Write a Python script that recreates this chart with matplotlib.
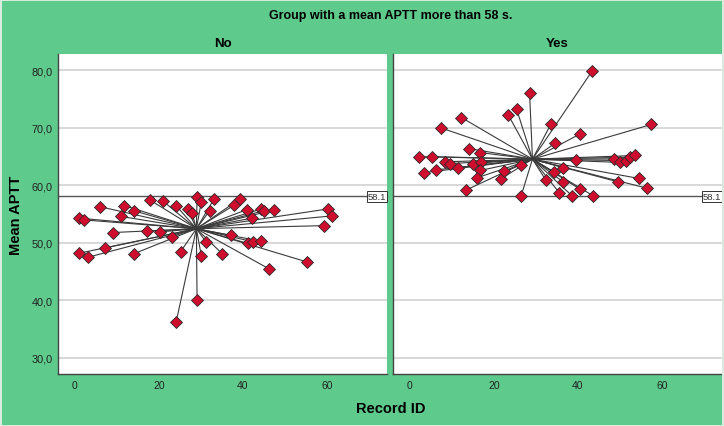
import numpy as np
import matplotlib
matplotlib.use("Agg")
import matplotlib.pyplot as plt
from matplotlib.patches import Rectangle

plt.rcParams['font.family'] = ['Liberation Sans', 'DejaVu Sans']

# group "No" (mean APTT <= 58 s)
no_id = [1.0, 2.1, 6.0, 11.8, 14.0, 11.0, 9.0, 7.1, 1.0, 3.1, 14.0,
         18.0, 21.1, 24.1, 26.9, 27.9, 29.1, 30.1, 33.1, 32.1, 39.2, 38.0,
         41.0, 42.1, 44.4, 45.0, 47.3, 17.2, 20.2, 23.1, 25.2, 30.1, 31.3,
         35.1, 37.2, 41.2, 42.4, 44.2, 46.2, 55.2, 60.2, 61.3, 59.3, 29.1, 24.1]
no_aptt = [54.3, 54.0, 56.3, 56.5, 55.6, 54.6, 51.8, 49.1, 48.2, 47.5, 48.1,
           57.4, 57.2, 56.5, 55.9, 55.2, 57.9, 57.1, 57.6, 55.6, 57.6, 56.6,
           55.8, 54.3, 55.9, 55.6, 55.7, 52.0, 51.9, 51.1, 48.5, 47.8, 50.1,
           48.1, 51.3, 49.9, 50.2, 50.3, 45.5, 46.7, 55.9, 54.7, 53.0, 40.0, 36.2]

# group "Yes" (mean APTT > 58 s)
yes_id = [43.4, 28.5, 23.4, 25.4, 12.3, 7.4, 33.6, 40.4, 34.5, 57.5,
          2.3, 5.3, 14.0, 16.8, 8.3, 9.6, 11.4, 15.1, 17.0, 3.3, 6.3, 16.8,
          15.9, 21.6, 22.5, 26.5, 13.4, 26.5, 32.4, 34.4, 36.5, 36.5, 39.6,
          35.6, 38.6, 40.6, 43.6, 48.5, 50.0, 51.5, 52.5, 53.7, 49.6, 54.6, 56.5]
yes_aptt = [79.9, 76.1, 72.3, 73.3, 71.8, 70.0, 70.7, 68.9, 67.3, 70.6,
            65.0, 65.0, 66.4, 65.7, 64.1, 63.8, 63.1, 63.8, 64.1, 62.2, 62.7, 62.6,
            61.3, 61.1, 62.5, 63.6, 59.2, 58.2, 60.9, 62.3, 63.1, 60.6, 64.4,
            58.7, 58.2, 59.3, 58.2, 64.6, 64.0, 64.3, 64.9, 65.2, 60.6, 61.2, 59.5]

panels = ["No", "Yes"]
ref_value = 58.1
y_ticks = [30, 40, 50, 60, 70, 80]
x_ticks = [0, 20, 40, 60]

green = '#5ECA8B'
red = '#CF0E2E'

fig = plt.figure(figsize=(7.24, 4.27), dpi=100, facecolor=green)
W, H = 724, 427
ax_l = fig.add_axes([58 / W, (H - 375) / H, 329 / W, 320 / H])
ax_r = fig.add_axes([393 / W, (H - 375) / H, 329 / W, 320 / H])

# thin light frame round the whole chart
fig.patches.append(Rectangle((0.5 / W, 0.5 / H), 1 - 1.5 / W, 1 - 1.5 / H,
                             transform=fig.transFigure, fill=False,
                             ec='#DDEBE1', lw=1.4, zorder=10))

for ax, name, xs, ys in [(ax_l, panels[0], no_id, no_aptt),
                         (ax_r, panels[1], yes_id, yes_aptt)]:
    xs = np.array(xs)
    ys = np.array(ys)
    cx, cy = xs.mean(), ys.mean()
    ax.set_facecolor('white')
    for t in y_ticks:
        ax.axhline(t, color='#D2D2D2', lw=1.2, zorder=1)
    ax.axhline(ref_value, color='#555555', lw=1.0, zorder=2)
    # spikes to the group centroid
    for x, y in zip(xs, ys):
        ax.plot([cx, x], [cy, y], color='#3A3A3A', lw=0.8, zorder=3)
    ax.plot(xs, ys, 'D', ms=6.2, color=red, mec='#2A2A2A', mew=0.6, zorder=4)
    ax.text(0.997, ref_value, "58.1", transform=ax.get_yaxis_transform(),
            ha='right', va='center', fontsize=6.8, color='#333333', zorder=5,
            bbox=dict(boxstyle='square,pad=0.1', fc='white', ec='#333333', lw=0.7),
            clip_on=False)
    ax.set_xlim(-4, 74.3)
    ax.set_ylim(27.2, 82.85)
    ax.set_xticks(x_ticks)
    ax.set_xticklabels([str(v) for v in x_ticks], fontsize=7.5)
    ax.set_yticks(y_ticks)
    ax.tick_params(length=0, pad=4, colors='#222222')
    for s in ['top', 'right']:
        ax.spines[s].set_visible(False)
    for s in ['left', 'bottom']:
        ax.spines[s].set_color('#444444')
        ax.spines[s].set_linewidth(1.0)
    ax.set_title(name, fontsize=9.5, fontweight='bold', pad=6)

ax_l.set_yticklabels([f"{v:.1f}".replace('.', ',') for v in y_ticks], fontsize=7.8)
ax_r.set_yticklabels([])
ax_l.set_ylabel("Mean APTT", fontsize=10.5, fontweight='bold', labelpad=6)

fig.text(0.54, 1 - 16 / H, "Group with a mean APTT more than 58 s.",
         ha='center', va='center', fontsize=9, fontweight='bold')
fig.text(0.54, 1 - 409 / H, "Record ID", ha='center', va='center',
         fontsize=10.5, fontweight='bold')

fig.savefig("out.png", dpi=100, facecolor=green)
